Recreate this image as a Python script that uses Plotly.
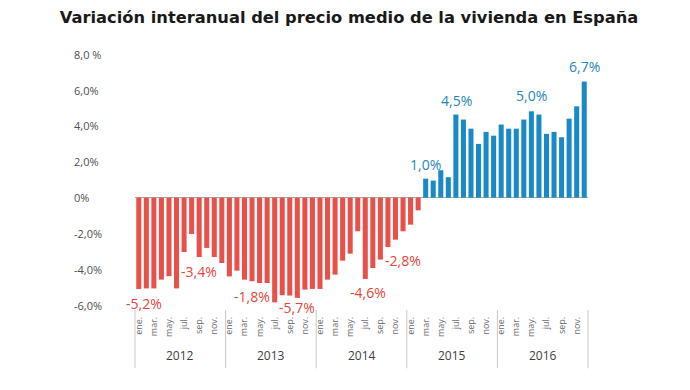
import plotly.graph_objects as go

years = ["2012", "2013", "2014", "2015", "2016"]
months = ["ene.", "feb.", "mar.", "abr.", "may.", "jun.", "jul.", "ago.", "sep.", "oct.", "nov.", "dic."]

# Year-on-year variation (%) per month, Jan 2012 .. Dec 2016
values_2012 = [-5.10, -5.07, -5.07, -4.58, -4.39, -5.07, -3.04, -2.03, -3.32, -2.81, -3.32, -3.65]
values_2013 = [-4.40, -4.08, -4.58, -4.67, -4.77, -4.77, -5.85, -5.45, -5.47, -5.60, -5.14, -5.10]
values_2014 = [-5.10, -4.58, -4.30, -3.52, -3.13, -1.88, -4.54, -3.93, -3.46, -2.76, -2.35, -1.88]
values_2015 = [-1.51, -0.71, 1.06, 0.95, 1.53, 1.14, 4.64, 4.36, 3.85, 3.00, 3.67, 3.46]
values_2016 = [4.08, 3.85, 3.85, 4.36, 4.82, 4.64, 3.56, 3.67, 3.37, 4.41, 5.10, 6.48]

values = values_2012 + values_2013 + values_2014 + values_2015 + values_2016

y_tick_vals = [8, 6, 4, 2, 0, -2, -4, -6]
y_tick_text = ["8,0 %", "6,0%", "4,0%", "2,0%", "0%", "-2,0%", "-4,0%", "-6,0%"]

# data labels: (bar index, text, x shift px, y shift px)
labels = [(0, "-5,2%", 5, -3), (8, "-3,4%", 0, -3), (15, "-1,8%", 0, -4), (21, "-5,7%", 0, 2),
          (30, "-4,6%", 3, -2), (33, "-2,8%", 15, -2), (38, "1,0%", 0, 3), (42, "4,5%", 1, 3),
          (52, "5,0%", 0, 4), (59, "6,7%", 0, 4)]

RED = "#E8504A"
BLUE = "#1A8AC4"
RED_TXT = "#E5453D"
BLUE_TXT = "#1F86BE"

n = len(values)
x = list(range(n))
colors = [RED if v < 0 else BLUE for v in values]

fig = go.Figure()
fig.add_trace(go.Bar(x=x, y=values, marker=dict(color=colors, line=dict(width=0)),
                     hoverinfo="skip"))

annotations = []
for idx, txt, dx, dy in labels:
    v = values[idx]
    neg = v < 0
    annotations.append(dict(
        x=idx, y=v, xref="x", yref="y", text=txt, showarrow=False,
        xshift=dx, yshift=dy,
        yanchor="top" if neg else "bottom",
        font=dict(family="Open Sans", size=14, color=RED_TXT if neg else BLUE_TXT)))

# y tick labels (left aligned)
for tv, tt in zip(y_tick_vals, y_tick_text):
    annotations.append(dict(
        x=-0.14, y=tv, xref="paper", yref="y", text=tt, showarrow=False,
        xanchor="left", yanchor="middle",
        font=dict(family="Open Sans", size=11, color="#505050")))

# year labels and dividers
shapes = []
for k, yr in enumerate(years):
    center = (k * 12 + 6) / n
    annotations.append(dict(
        x=center, y=-0.155, xref="paper", yref="paper", text=yr, showarrow=False,
        xanchor="center", yanchor="middle",
        font=dict(family="Open Sans", size=12, color="#404040")))
for k in range(len(years) + 1):
    xp = (k * 12) / n
    shapes.append(dict(type="line", xref="paper", yref="paper", x0=xp, x1=xp,
                       y0=0.015, y1=-0.205, line=dict(color="#C8C8C8", width=1)))

tickvals = [i for i in range(n) if i % 2 == 0]
ticktext = [months[i % 12] for i in tickvals]

fig.update_layout(
    template="none",
    width=682, height=382,
    margin=dict(l=127, r=102, t=41, b=76, autoexpand=False),
    paper_bgcolor="white", plot_bgcolor="white",
    bargap=0.33,
    showlegend=False,
    title=dict(text="<b>Variación interanual del precio medio de la vivienda en España</b>",
               x=0.5, xanchor="center", y=0.976, yanchor="middle",
               font=dict(family="DejaVu Sans", size=16.3, color="#1a1a1a")),
    xaxis=dict(range=[-0.5, n - 0.5], tickmode="array", tickvals=tickvals, ticktext=ticktext,
               tickangle=-90, tickfont=dict(family="Open Sans", size=9, color="#6a6a6a"),
               showgrid=False, zeroline=False, showline=False, ticks="", fixedrange=True,
               automargin=False),
    yaxis=dict(range=[-6.5, 8.3], showticklabels=False, showgrid=False,
               zeroline=True, zerolinecolor="#A6A6A6", zerolinewidth=1,
               showline=False, ticks="", fixedrange=True, automargin=False),
    annotations=annotations,
    shapes=shapes,
)

fig.write_html("out.html")
